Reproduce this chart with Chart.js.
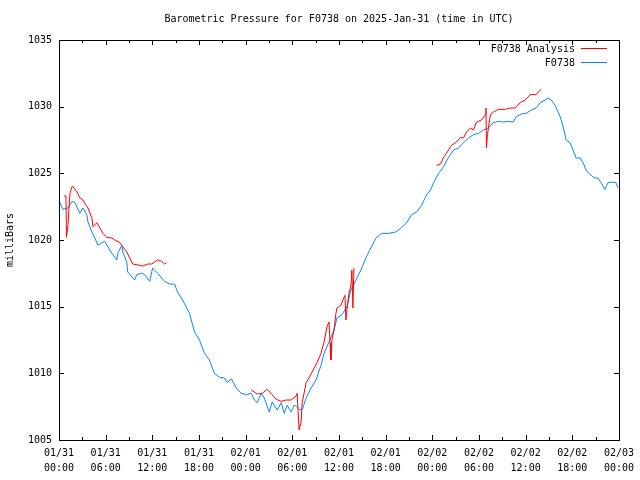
<!DOCTYPE html>
<html>
<head>
<meta charset="utf-8">
<script src="https://cdn.jsdelivr.net/npm/chart.js@4"></script>
<style>
html, body { margin: 0; padding: 0; background: #fff; }
</style>
</head>
<body>
<canvas id="pressureChart" width="640" height="480"></canvas>
<script>
// Hours since 2025-01-31 00:00 UTC and pressure in mb
const stationHours = [0.13, 0.51, 1.15, 1.67, 2.05, 2.69, 3.07, 3.59, 3.72, 4.23, 4.61, 5.0, 5.51, 5.89, 6.53, 6.92, 7.43, 7.56, 8.07, 8.2, 8.71, 8.84, 9.74, 9.99, 10.63, 11.02, 11.66, 12.04, 12.68, 13.58, 14.22, 14.86, 15.24, 15.89, 16.78, 17.42, 18.06, 18.7, 19.34, 19.98, 20.63, 21.27, 21.65, 22.16, 22.8, 23.44, 24.08, 24.72, 25.11, 25.49, 26.01, 26.39, 27.03, 27.41, 28.06, 28.57, 28.95, 29.34, 29.85, 30.23, 30.62, 31.0, 31.3, 31.77, 32.41, 33.05, 33.69, 34.08, 34.72, 35.36, 35.74, 36.38, 37.02, 37.54, 38.18, 38.82, 39.46, 40.1, 40.74, 41.51, 42.4, 43.3, 44.07, 44.71, 45.35, 45.99, 46.63, 47.27, 47.78, 48.17, 48.81, 49.45, 50.09, 50.73, 51.37, 52.01, 52.65, 53.29, 53.93, 54.57, 55.21, 55.85, 56.5, 57.14, 57.78, 58.42, 58.8, 59.44, 60.08, 60.72, 61.36, 61.88, 62.52, 62.9, 63.29, 63.8, 64.44, 64.82, 65.21, 65.72, 66.1, 66.49, 67.0, 67.39, 67.77, 68.28, 68.92, 69.3, 69.69, 70.2, 70.59, 71.23, 71.61, 71.87];
const stationMb = [1022.8, 1022.3, 1022.4, 1022.9, 1022.8, 1022.0, 1022.4, 1021.9, 1021.35, 1020.6, 1020.15, 1019.6, 1019.8, 1019.9, 1019.25, 1018.9, 1018.5, 1019.0, 1019.6, 1019.1, 1018.35, 1017.6, 1017.0, 1017.4, 1017.5, 1017.4, 1016.9, 1017.9, 1017.5, 1016.9, 1016.7, 1016.7, 1016.1, 1015.5, 1014.5, 1013.1, 1012.5, 1011.5, 1011.0, 1010.0, 1009.7, 1009.65, 1009.3, 1009.6, 1008.9, 1008.5, 1008.4, 1008.5, 1008.0, 1007.8, 1008.5, 1008.15, 1007.1, 1007.85, 1007.25, 1007.8, 1007.0, 1007.6, 1007.1, 1007.6, 1007.5, 1007.25, 1007.3, 1008.15, 1008.9, 1009.5, 1010.6, 1011.5, 1012.35, 1013.25, 1014.15, 1014.4, 1015.0, 1016.25, 1017.0, 1017.75, 1018.65, 1019.4, 1020.15, 1020.5, 1020.5, 1020.6, 1020.95, 1021.3, 1021.9, 1022.1, 1022.6, 1023.4, 1023.75, 1024.3, 1025.0, 1025.5, 1026.2, 1026.75, 1026.9, 1027.3, 1027.65, 1027.9, 1028.0, 1028.25, 1028.4, 1028.8, 1028.9, 1028.85, 1028.9, 1028.85, 1029.25, 1029.45, 1029.5, 1029.75, 1029.9, 1030.3, 1030.5, 1030.65, 1030.5, 1030.1, 1029.25, 1028.5, 1027.5, 1027.3, 1026.75, 1026.15, 1026.15, 1025.8, 1025.25, 1024.9, 1024.65, 1024.65, 1024.3, 1023.8, 1024.3, 1024.35, 1024.3, 1023.9];

// analysis series, null = no analysis (gap in the line)
const analysisHours = [0.64, 0.9, 0.96, 1.15, 1.28, 1.41, 1.67, 1.79, 2.31, 2.69, 3.07, 3.59, 3.72, 4.23, 4.36, 4.87, 5.25, 5.64, 6.15, 6.79, 7.17, 7.81, 8.2, 8.71, 9.1, 9.48, 10.38, 10.76, 11.4, 11.91, 12.3, 12.68, 13.2, 13.58, 13.84,
  19.0,
  24.72, 25.11, 25.49, 26.13, 26.77, 27.41, 27.93, 28.57, 29.21, 29.85, 30.49, 30.62, 30.87, 31.13, 31.26, 31.51, 31.77, 32.15, 32.54, 33.18, 33.69, 34.08, 34.46, 34.72, 34.85, 34.97, 35.1, 35.36, 35.61, 35.74, 36.25, 36.64, 36.77, 36.89, 37.02, 37.28, 37.54, 37.66, 37.79, 37.92,
  43.0,
  48.55, 49.06, 49.45, 49.83, 50.47, 51.11, 51.63, 52.01, 52.4, 52.91, 53.29, 53.68, 54.32, 54.83, 54.9, 54.96, 55.09, 55.47, 55.85, 56.5, 57.39, 58.03, 58.67, 59.31, 59.95, 60.6, 61.36, 61.62, 62.0];
const analysisMb = [1023.3, 1023.3, 1020.2, 1021.1, 1022.4, 1023.5, 1024.0, 1024.0, 1023.6, 1023.15, 1023.0, 1022.5, 1022.4, 1021.65, 1021.0, 1021.3, 1020.9, 1020.5, 1020.2, 1020.15, 1020.0, 1019.8, 1019.5, 1019.1, 1018.65, 1018.2, 1018.1, 1018.05, 1018.2, 1018.2, 1018.35, 1018.5, 1018.4, 1018.2, 1018.3,
  null,
  1008.75, 1008.6, 1008.45, 1008.5, 1008.8, 1008.4, 1008.05, 1007.9, 1008.0, 1008.0, 1008.3, 1008.5, 1005.75, 1006.35, 1007.8, 1008.5, 1009.3, 1009.65, 1010.1, 1010.8, 1011.5, 1012.35, 1013.5, 1013.85, 1012.3, 1011.0, 1012.5, 1013.25, 1014.5, 1014.9, 1015.1, 1015.7, 1015.85, 1014.0, 1014.75, 1016.0, 1016.6, 1017.75, 1014.9, 1017.9,
  null,
  1025.6, 1025.7, 1026.2, 1026.5, 1027.1, 1027.35, 1027.7, 1027.65, 1028.1, 1028.4, 1028.25, 1028.85, 1029.0, 1029.4, 1029.9, 1026.9, 1027.9, 1029.4, 1029.6, 1029.8, 1029.8, 1029.9, 1029.9, 1030.3, 1030.5, 1030.9, 1030.9, 1031.1, 1031.3];

// x tick labels, one per 6 hours
const tickDates = ['01/31', '01/31', '01/31', '01/31', '02/01', '02/01', '02/01', '02/01', '02/02', '02/02', '02/02', '02/02', '02/03'];
const tickTimes = ['00:00', '06:00', '12:00', '18:00', '00:00', '06:00', '12:00', '18:00', '00:00', '06:00', '12:00', '18:00', '00:00'];

const titleText = 'Barometric Pressure for F0738 on 2025-Jan-31 (time in UTC)';
const monoFont = '"DejaVu Sans Mono", "Liberation Mono", monospace';

function toPoints(xs, ys) {
    return xs.map((x, i) => ({ x: x, y: ys[i] }));
}

// gnuplot-like frame: border, inward ticks, title, legend
const gnuplotFrame = {
    id: 'gnuplotFrame',
    afterDraw(chart) {
        const ctx = chart.ctx;
        const a = chart.chartArea;
        const xs = chart.scales.x;
        const ys = chart.scales.y;
        ctx.save();
        ctx.strokeStyle = '#000';
        ctx.lineWidth = 1;
        ctx.beginPath();
        // x ticks every 3h, long ones every 6h
        for (let h = 0; h <= 72; h += 3) {
            const px = Math.round(xs.getPixelForValue(h)) + 0.5;
            const len = (h % 6 === 0) ? 5 : 3;
            ctx.moveTo(px, a.bottom); ctx.lineTo(px, a.bottom - len);
            ctx.moveTo(px, a.top); ctx.lineTo(px, a.top + len);
        }
        for (let v = 1005; v <= 1035; v += 5) {
            const py = Math.round(ys.getPixelForValue(v)) + 0.5;
            ctx.moveTo(a.left, py); ctx.lineTo(a.left + 5, py);
            ctx.moveTo(a.right, py); ctx.lineTo(a.right - 5, py);
        }
        ctx.stroke();
        ctx.strokeRect(Math.round(a.left) + 0.5, Math.round(a.top) + 0.5,
            Math.round(a.right - a.left), Math.round(a.bottom - a.top));

        ctx.fillStyle = '#000';
        ctx.font = '10px ' + monoFont;
        ctx.textBaseline = 'middle';
        ctx.textAlign = 'center';
        ctx.fillText(titleText, (a.left + a.right) / 2, 19);

        // legend, top right inside the plot
        ctx.textAlign = 'right';
        chart.data.datasets.forEach((ds, i) => {
            const y = a.top + 9 + i * 14;
            ctx.fillStyle = '#000';
            ctx.fillText(ds.label, a.right - 44, y);
            ctx.strokeStyle = ds.borderColor;
            ctx.beginPath();
            ctx.moveTo(a.right - 38, Math.round(y) - 0.5);
            ctx.lineTo(a.right - 12, Math.round(y) - 0.5);
            ctx.stroke();
        });
        ctx.restore();
    }
};

Chart.defaults.font.family = monoFont;
Chart.defaults.font.size = 10;
Chart.defaults.color = '#000';

const ctx = document.getElementById('pressureChart').getContext('2d');
new Chart(ctx, {
    type: 'line',
    data: {
        datasets: [{
            label: 'F0738 Analysis',
            data: toPoints(analysisHours, analysisMb),
            borderColor: '#ff0000',
            borderWidth: 1,
            pointRadius: 0,
            tension: 0,
            spanGaps: false,
            fill: false
        }, {
            label: 'F0738',
            data: toPoints(stationHours, stationMb),
            borderColor: '#0a84ff',
            borderWidth: 1,
            pointRadius: 0,
            tension: 0,
            fill: false
        }]
    },
    options: {
        responsive: false,
        animation: false,
        devicePixelRatio: 1,
        layout: { padding: { top: 40, right: 19, left: 0, bottom: 0 } },
        plugins: {
            legend: { display: false },
            title: { display: false },
            tooltip: { enabled: false }
        },
        scales: {
            x: {
                type: 'linear',
                min: 0,
                max: 72,
                grid: { display: false, drawTicks: false },
                border: { display: false },
                ticks: {
                    stepSize: 6,
                    autoSkip: false,
                    maxRotation: 0,
                    padding: 6,
                    font: { size: 10, lineHeight: 1.5 },
                    callback: (v) => [tickDates[v / 6], tickTimes[v / 6]]
                },
                afterFit: (s) => { s.height = 40; }
            },
            y: {
                min: 1005,
                max: 1035,
                grid: { display: false, drawTicks: false },
                border: { display: false },
                ticks: { stepSize: 5, padding: 7, callback: (v) => String(v) },
                title: { display: true, text: 'milliBars', padding: { top: 4, bottom: 0 } },
                afterFit: (s) => { s.width = 59; }
            }
        }
    },
    plugins: [gnuplotFrame]
});
</script>
</body>
</html>
